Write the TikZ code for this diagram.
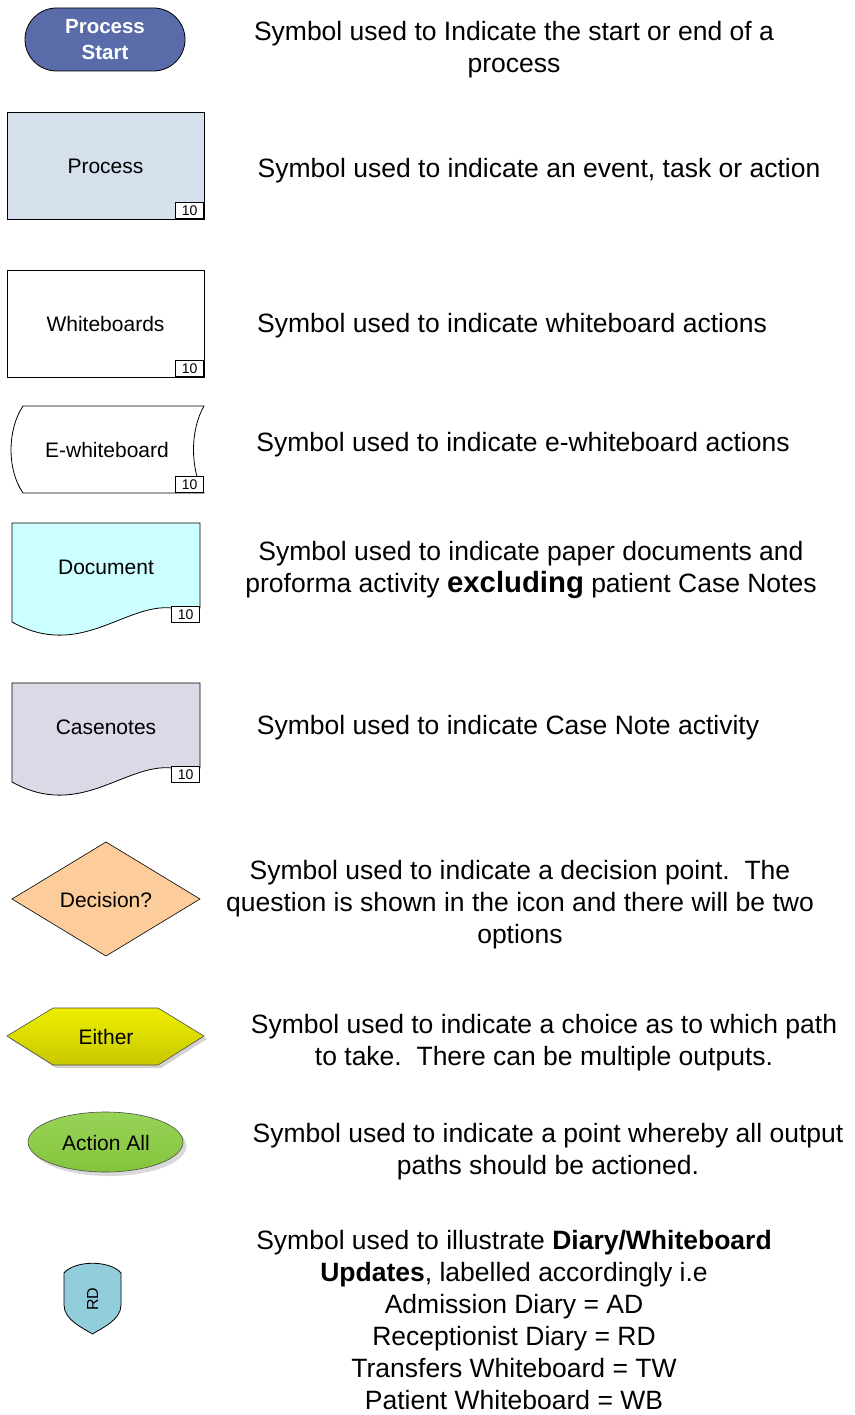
\documentclass[tikz,border=0pt]{standalone}
\usepackage{fontspec}
\setmainfont{Liberation Sans}
\usetikzlibrary{shadows}
\definecolor{startblue}{HTML}{5A6BAA}
\definecolor{procfill}{HTML}{D6E0EC}
\definecolor{docfill}{HTML}{CCFFFF}
\definecolor{casefill}{HTML}{DCD8E6}
\definecolor{decfill}{HTML}{FCCC9A}
\definecolor{rdfill}{HTML}{92CDDC}
\definecolor{greentop}{HTML}{98D458}
\definecolor{greenbot}{HTML}{84C43C}
\definecolor{yeltop}{HTML}{EEEE00}
\definecolor{yelbot}{HTML}{C8C800}
\tikzset{
  desc/.style={align=center, inner sep=0pt, font=\fontsize{26.5}{32}\selectfont},
  lbl/.style={inner sep=0pt, font=\fontsize{21}{25}\selectfont},
  numbox/.style={draw=black, fill=white, line width=0.7pt, minimum width=28pt, minimum height=16pt, inner sep=0pt, anchor=south east, font=\fontsize{14}{14}\selectfont},
  shp/.style={draw=black, line width=0.8pt},
}
\begin{document}
\begin{tikzpicture}[x=1pt,y=-1pt]
\useasboundingbox (0,0) rectangle (854,1415);

% Process Start
\draw[shp, fill=startblue, rounded corners=31.5pt] (25,8) rectangle (185,71);
\node[lbl, align=center, text=white, font=\bfseries\fontsize{20.5}{26}\selectfont] (startlbl) at (105,39.5) {Process\\Start};
\node[desc] (t1) at (514,50) {Symbol used to Indicate the start or end of a\\process};

% Process
\draw[shp, fill=procfill] (7,112) rectangle (204,219);
\node[lbl] (proclbl) at (105.5,166) {Process};
\node[numbox] (n1) at (204,219) {10};
\node[desc] (t2) at (539,171) {Symbol used to indicate an event, task or action};

% Whiteboards
\draw[shp, fill=white] (7,270) rectangle (204,377);
\node[lbl] (wblbl) at (105.5,324) {Whiteboards};
\node[numbox] (n2) at (204,377) {10};
\node[desc] (t3) at (512,326) {Symbol used to indicate whiteboard actions};

% E-whiteboard
\draw[shp, fill=white] (23,406) -- (204,406) .. controls (190,430) and (190,470) .. (204,493) -- (23,493) .. controls (7,470) and (7,430) .. (23,406) -- cycle;
\node[lbl] (ewlbl) at (107,450) {E-whiteboard};
\node[numbox] (n3) at (204,493) {10};
\node[desc] (t4) at (523,445) {Symbol used to indicate e-whiteboard actions};

% Document
\draw[shp, fill=docfill] (12,523) -- (200,523) -- (200,608) -- (172,608) .. controls (125,603) and (80,660) .. (12,622) -- cycle;
\node[lbl] (doclbl) at (106,567) {Document};
\node[numbox] (n4) at (200,623) {10};
\node[desc] (t5) at (531,569.5) {Symbol used to indicate paper documents and\\proforma activity {\bfseries\fontsize{29.3}{32}\selectfont excluding} patient Case Notes};

% Casenotes
\draw[shp, fill=casefill] (12,683) -- (200,683) -- (200,768) -- (172,768) .. controls (125,763) and (80,820) .. (12,782) -- cycle;
\node[lbl] (caselbl) at (106,727) {Casenotes};
\node[numbox] (n5) at (200,783) {10};
\node[desc] (t6) at (508,728) {Symbol used to indicate Case Note activity};

% Decision
\draw[shp, fill=decfill, line width=0.6pt] (106,842) -- (200,899) -- (106,956) -- (12,899) -- cycle;
\node[lbl] (declbl) at (106,900) {Decision?};
\node[desc] (t7) at (520,904.5) {Symbol used to indicate a decision point.\ \ The\\question is shown in the icon and there will be two\\options};

% Either
\fill[gray!35] (10,1039) -- (56,1011) -- (161,1011) -- (207,1039) -- (161,1068) -- (56,1068) -- cycle;
\draw[draw=black!70, line width=0.6pt, top color=yeltop, bottom color=yelbot] (7,1036) -- (53,1008) -- (158,1008) -- (204,1036) -- (158,1065) -- (53,1065) -- cycle;
\node[lbl] (eitherlbl) at (106,1037) {Either};
\node[desc] (t8) at (544,1043) {Symbol used to indicate a choice as to which path\\to take.\ \ There can be multiple outputs.};

% Action All
\fill[gray!30] (109,1146) ellipse [x radius=77.5, y radius=30];
\draw[draw=black!70, line width=0.6pt, top color=greentop, bottom color=greenbot] (105.5,1142) ellipse [x radius=77.5, y radius=30];
\node[lbl] (actlbl) at (106,1143) {Action All};
\node[desc] (t9) at (548,1152) {Symbol used to indicate a point whereby all output\\paths should be actioned.};

% RD shield
\draw[shp, fill=rdfill] (64,1273) .. controls (75,1260) and (110,1260) .. (121,1273) -- (121,1305) .. controls (121,1320) and (102,1328) .. (92.5,1334) .. controls (83,1328) and (64,1320) .. (64,1305) -- cycle;
\node[inner sep=0pt, rotate=90, font=\fontsize{16}{16}\selectfont] (rdlbl) at (92.5,1299) {RD};
\node[desc] (t10) at (514,1320.5) {Symbol used to illustrate \textbf{Diary/Whiteboard}\\\textbf{Updates}, labelled accordingly i.e\\Admission Diary = AD\\Receptionist Diary = RD\\Transfers Whiteboard = TW\\Patient Whiteboard = WB};
\end{tikzpicture}
\end{document}
